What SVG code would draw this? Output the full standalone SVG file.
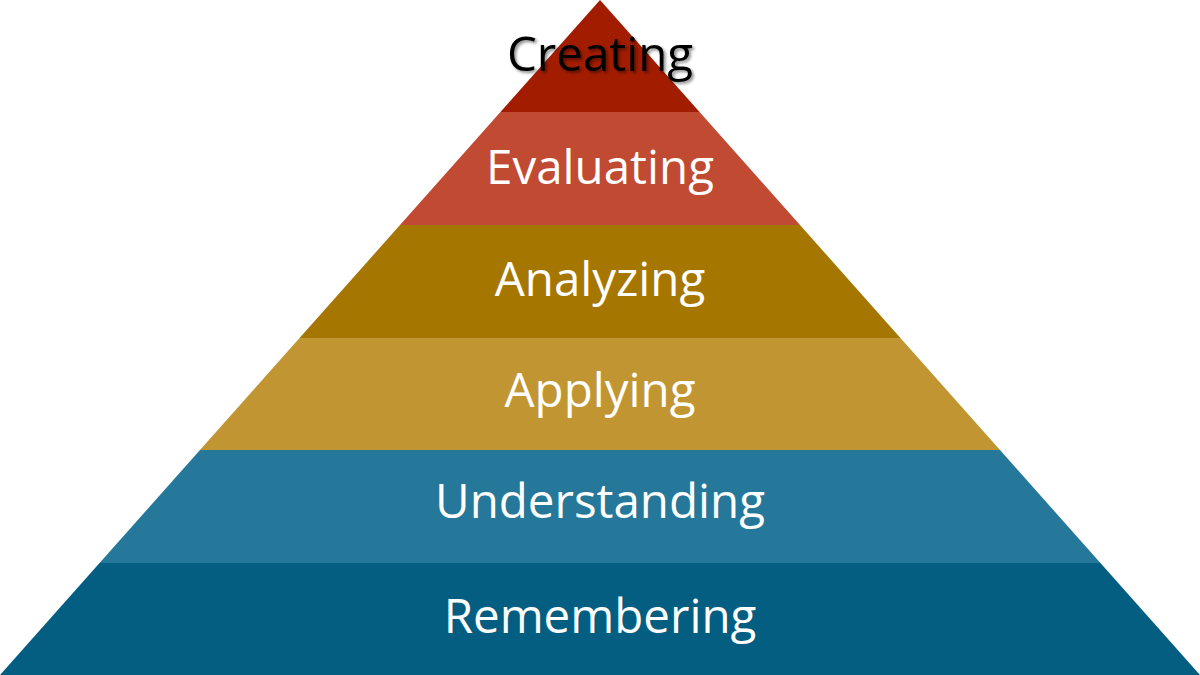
<svg xmlns="http://www.w3.org/2000/svg" width="1200" height="675" viewBox="0 0 1200 675">
<defs>
<style>
.lbl{font-family:"Open Sans","Noto Sans","Liberation Sans",sans-serif;font-size:47.5px;fill:#ffffff;text-anchor:middle}
.dark{fill:#000000}
</style>
<filter id="shadow" x="-10%" y="-30%" width="120%" height="160%">
<feGaussianBlur in="SourceAlpha" stdDeviation="1.6" result="b"/>
<feOffset in="b" dx="2" dy="2" result="o"/>
<feComponentTransfer in="o" result="s"><feFuncA type="linear" slope="0.45"/></feComponentTransfer>
<feMerge><feMergeNode in="s"/><feMergeNode in="SourceGraphic"/></feMerge>
</filter>
</defs>
<rect width="1200" height="675" fill="#ffffff"/>
<g id="remembering">
<polygon points="99.56,563 1100.44,563 1200,675 0,675" fill="#035E82"/>
<text class="lbl" x="600" y="633">Remembering</text>
</g>
<g id="understanding">
<polygon points="200,450 1000,450 1100.44,563 99.56,563" fill="#257899"/>
<text class="lbl" x="600" y="518">Understanding</text>
</g>
<g id="applying">
<polygon points="299.56,338 900.44,338 1000,450 200,450" fill="#C19632"/>
<text class="lbl" x="600" y="407">Applying</text>
</g>
<g id="analyzing">
<polygon points="400,225 800,225 900.44,338 299.56,338" fill="#A67700"/>
<text class="lbl" x="600" y="296">Analyzing</text>
</g>
<g id="evaluating">
<polygon points="500.44,112 699.56,112 800,225 400,225" fill="#C04A32"/>
<text class="lbl" x="600" y="184">Evaluating</text>
</g>
<g id="creating">
<polygon points="600,0 699.56,112 500.44,112" fill="#A21C00"/>
<text class="lbl dark" x="600" y="71" filter="url(#shadow)">Creating</text>
</g>
</svg>
